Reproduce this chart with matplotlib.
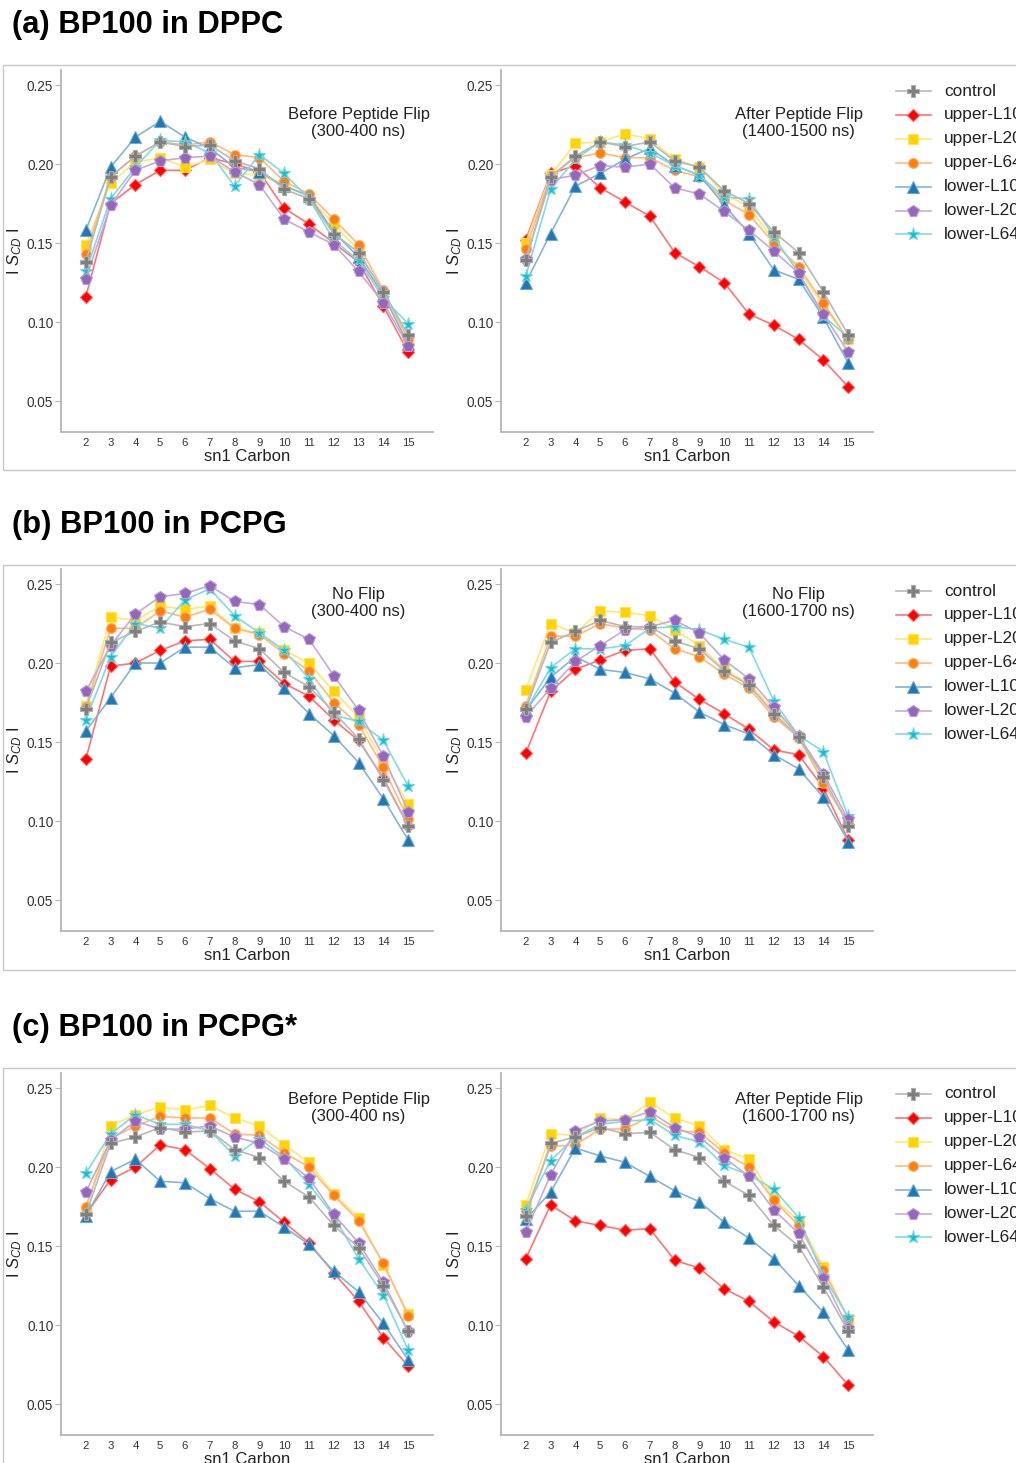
import matplotlib
matplotlib.use('Agg')
import matplotlib.pyplot as plt
from matplotlib.patches import Rectangle
from matplotlib.lines import Line2D
import matplotlib.colors as mcolors

plt.rcParams['font.family'] = ['Liberation Sans', 'DejaVu Sans']
plt.rcParams['mathtext.fontset'] = 'custom'
plt.rcParams['mathtext.rm'] = 'Liberation Sans'
plt.rcParams['mathtext.it'] = 'Liberation Sans:italic'

# ---------------- data ----------------
carbons = [2, 3, 4, 5, 6, 7, 8, 9, 10, 11, 12, 13, 14, 15]
series = ['control', 'upper-L10', 'upper-L20', 'upper-L64', 'lower-L10', 'lower-L20', 'lower-L64']

a_before = {
    'control':   [0.138, 0.192, 0.205, 0.214, 0.211, 0.212, 0.202, 0.197, 0.184, 0.178, 0.156, 0.144, 0.119, 0.092],
    'upper-L10': [0.116, 0.175, 0.187, 0.196, 0.196, 0.204, 0.200, 0.195, 0.172, 0.162, 0.150, 0.138, 0.110, 0.081],
    'upper-L20': [0.149, 0.188, 0.201, 0.204, 0.198, 0.203, 0.194, 0.193, 0.187, 0.179, 0.162, 0.145, 0.118, 0.089],
    'upper-L64': [0.143, 0.192, 0.205, 0.214, 0.212, 0.214, 0.206, 0.204, 0.189, 0.181, 0.165, 0.149, 0.120, 0.089],
    'lower-L10': [0.158, 0.198, 0.217, 0.227, 0.217, 0.210, 0.198, 0.195, 0.186, 0.180, 0.157, 0.141, 0.117, 0.086],
    'lower-L20': [0.127, 0.174, 0.196, 0.202, 0.204, 0.205, 0.195, 0.187, 0.165, 0.157, 0.149, 0.132, 0.112, 0.085],
    'lower-L64': [0.132, 0.178, 0.198, 0.215, 0.214, 0.207, 0.186, 0.206, 0.194, 0.178, 0.152, 0.139, 0.115, 0.099],
}
a_after = {
    'control':   [0.139, 0.192, 0.205, 0.214, 0.211, 0.214, 0.202, 0.198, 0.183, 0.175, 0.157, 0.144, 0.119, 0.092],
    'upper-L10': [0.152, 0.194, 0.199, 0.185, 0.176, 0.167, 0.144, 0.135, 0.125, 0.105, 0.098, 0.089, 0.076, 0.059],
    'upper-L20': [0.150, 0.193, 0.213, 0.214, 0.219, 0.216, 0.203, 0.198, 0.181, 0.173, 0.152, 0.133, 0.110, 0.089],
    'upper-L64': [0.146, 0.192, 0.204, 0.207, 0.204, 0.204, 0.196, 0.192, 0.177, 0.168, 0.150, 0.135, 0.112, 0.089],
    'lower-L10': [0.125, 0.156, 0.186, 0.194, 0.203, 0.210, 0.199, 0.193, 0.174, 0.156, 0.133, 0.127, 0.103, 0.074],
    'lower-L20': [0.140, 0.190, 0.193, 0.199, 0.198, 0.200, 0.185, 0.181, 0.170, 0.158, 0.145, 0.131, 0.105, 0.081],
    'lower-L64': [0.129, 0.184, 0.203, 0.214, 0.212, 0.207, 0.199, 0.193, 0.179, 0.178, 0.154, 0.131, 0.104, 0.090],
}
b_left = {
    'control':   [0.171, 0.213, 0.220, 0.226, 0.223, 0.225, 0.214, 0.209, 0.194, 0.185, 0.169, 0.152, 0.126, 0.097],
    'upper-L10': [0.139, 0.198, 0.200, 0.208, 0.214, 0.215, 0.201, 0.201, 0.187, 0.179, 0.164, 0.151, 0.127, 0.097],
    'upper-L20': [0.173, 0.229, 0.227, 0.236, 0.234, 0.236, 0.222, 0.219, 0.208, 0.200, 0.182, 0.166, 0.137, 0.111],
    'upper-L64': [0.172, 0.222, 0.222, 0.233, 0.229, 0.234, 0.222, 0.218, 0.206, 0.195, 0.175, 0.161, 0.134, 0.101],
    'lower-L10': [0.157, 0.178, 0.200, 0.200, 0.210, 0.210, 0.197, 0.199, 0.184, 0.168, 0.154, 0.137, 0.114, 0.088],
    'lower-L20': [0.182, 0.211, 0.231, 0.242, 0.244, 0.249, 0.239, 0.237, 0.223, 0.215, 0.192, 0.170, 0.141, 0.106],
    'lower-L64': [0.164, 0.204, 0.225, 0.222, 0.240, 0.247, 0.230, 0.219, 0.208, 0.190, 0.167, 0.163, 0.151, 0.122],
}
b_right = {
    'control':   [0.171, 0.213, 0.220, 0.227, 0.223, 0.223, 0.214, 0.209, 0.195, 0.186, 0.168, 0.153, 0.128, 0.097],
    'upper-L10': [0.143, 0.182, 0.196, 0.202, 0.208, 0.209, 0.188, 0.177, 0.168, 0.158, 0.145, 0.142, 0.121, 0.088],
    'upper-L20': [0.183, 0.225, 0.219, 0.233, 0.232, 0.230, 0.221, 0.211, 0.196, 0.187, 0.170, 0.153, 0.125, 0.100],
    'upper-L64': [0.173, 0.217, 0.217, 0.225, 0.222, 0.221, 0.209, 0.204, 0.193, 0.184, 0.166, 0.153, 0.124, 0.099],
    'lower-L10': [0.170, 0.191, 0.204, 0.196, 0.194, 0.190, 0.181, 0.169, 0.161, 0.155, 0.142, 0.133, 0.115, 0.087],
    'lower-L20': [0.166, 0.184, 0.201, 0.211, 0.221, 0.223, 0.227, 0.219, 0.202, 0.190, 0.172, 0.154, 0.130, 0.101],
    'lower-L64': [0.170, 0.197, 0.209, 0.209, 0.211, 0.222, 0.223, 0.221, 0.215, 0.210, 0.176, 0.154, 0.144, 0.103],
}
c_before = {
    'control':   [0.170, 0.215, 0.219, 0.225, 0.222, 0.223, 0.211, 0.206, 0.191, 0.181, 0.163, 0.149, 0.125, 0.096],
    'upper-L10': [0.170, 0.192, 0.200, 0.214, 0.211, 0.199, 0.186, 0.178, 0.165, 0.152, 0.133, 0.115, 0.092, 0.074],
    'upper-L20': [0.172, 0.226, 0.233, 0.238, 0.236, 0.239, 0.231, 0.226, 0.214, 0.203, 0.183, 0.168, 0.138, 0.107],
    'upper-L64': [0.175, 0.218, 0.226, 0.232, 0.231, 0.231, 0.221, 0.220, 0.209, 0.200, 0.182, 0.166, 0.139, 0.106],
    'lower-L10': [0.169, 0.197, 0.205, 0.191, 0.190, 0.180, 0.172, 0.172, 0.162, 0.151, 0.134, 0.121, 0.101, 0.078],
    'lower-L20': [0.184, 0.217, 0.229, 0.224, 0.224, 0.226, 0.219, 0.215, 0.205, 0.193, 0.170, 0.152, 0.127, 0.096],
    'lower-L64': [0.196, 0.221, 0.233, 0.227, 0.227, 0.223, 0.207, 0.218, 0.206, 0.189, 0.169, 0.142, 0.119, 0.084],
}
c_after = {
    'control':   [0.169, 0.215, 0.219, 0.225, 0.221, 0.222, 0.211, 0.206, 0.191, 0.182, 0.163, 0.150, 0.124, 0.096],
    'upper-L10': [0.142, 0.176, 0.166, 0.163, 0.160, 0.161, 0.141, 0.136, 0.123, 0.115, 0.102, 0.093, 0.080, 0.062],
    'upper-L20': [0.176, 0.221, 0.220, 0.231, 0.230, 0.241, 0.231, 0.226, 0.211, 0.205, 0.180, 0.166, 0.137, 0.104],
    'upper-L64': [0.172, 0.213, 0.214, 0.224, 0.224, 0.232, 0.223, 0.222, 0.209, 0.200, 0.179, 0.163, 0.135, 0.104],
    'lower-L10': [0.167, 0.184, 0.212, 0.207, 0.203, 0.194, 0.185, 0.178, 0.165, 0.155, 0.142, 0.125, 0.108, 0.084],
    'lower-L20': [0.159, 0.195, 0.223, 0.229, 0.230, 0.235, 0.225, 0.219, 0.206, 0.194, 0.173, 0.158, 0.130, 0.098],
    'lower-L64': [0.173, 0.204, 0.219, 0.227, 0.229, 0.230, 0.220, 0.216, 0.201, 0.195, 0.186, 0.168, 0.131, 0.105],
}

panel_titles = ['(a) BP100 in DPPC', '(b) BP100 in PCPG', '(c) BP100 in PCPG*']
annotations = [
    ('Before Peptide Flip\n(300-400 ns)', 'After Peptide Flip\n(1400-1500 ns)'),
    ('No Flip\n(300-400 ns)', 'No Flip\n(1600-1700 ns)'),
    ('Before Peptide Flip\n(300-400 ns)', 'After Peptide Flip\n(1600-1700 ns)'),
]
panel_data = [(a_before, a_after), (b_left, b_right), (c_before, c_after)]
yticks = [0.05, 0.10, 0.15, 0.20, 0.25]

# ---------------- style ----------------
colors = {'control': '#7f7f7f', 'upper-L10': '#ff0000', 'upper-L20': '#ffd400',
          'upper-L64': '#ff7f0e', 'lower-L10': '#1f77b4', 'lower-L20': '#9467bd',
          'lower-L64': '#17becf'}
markers = {'control': 'P', 'upper-L10': 'D', 'upper-L20': 's', 'upper-L64': 'o',
           'lower-L10': '^', 'lower-L20': 'p', 'lower-L64': '*'}
msizes = {'control': 8, 'upper-L10': 6.5, 'upper-L20': 6.5, 'upper-L64': 7,
          'lower-L10': 9, 'lower-L20': 8.5, 'lower-L64': 9.5}
draw_order = ['upper-L10', 'upper-L20', 'upper-L64', 'lower-L10', 'lower-L64', 'lower-L20', 'control']


def lighten(c, f=0.5):
    r, g, b = mcolors.to_rgb(c)
    return (r + (1 - r) * f, g + (1 - g) * f, b + (1 - b) * f)


W, H = 1016, 1463
fig = plt.figure(figsize=(W / 100, H / 100), dpi=100)

ov = fig.add_axes([0, 0, 1, 1])
ov.set_xlim(0, W)
ov.set_ylim(H, 0)
ov.axis('off')

spine_col = '#b5b5b5'
text_col = '#333333'


def rect(x0, y0, x1, y1):
    return [x0 / W, 1 - y1 / H, (x1 - x0) / W, (y1 - y0) / H]


offsets = [0, 499, 1003]
title_y = [25, 525, 1028]
box_top = [65, 565, 1068]
box_bot = [470, 970, 1480]
ann_y = [0.853, 0.906, 0.903]

for p in range(3):
    off = offsets[p]
    ov.add_patch(Rectangle((3, box_top[p]), 1040, box_bot[p] - box_top[p],
                           fill=False, edgecolor='#c8c8c8', lw=1.0))
    ov.text(12, title_y[p], panel_titles[p], fontsize=22.2, fontweight='bold',
            va='center', ha='left', color='black')
    for side in range(2):
        x0 = 61 if side == 0 else 501
        ax = fig.add_axes(rect(x0, 70 + off, x0 + 372, 432 + off))
        ax.set_xlim(1, 16)
        ax.set_ylim(0.0304, 0.2595)
        d = panel_data[p][side]
        for s in draw_order:
            c = colors[s]
            ax.plot(carbons, d[s], color=lighten(c, 0.45), lw=1.2,
                    marker=markers[s], ms=msizes[s], markerfacecolor=c,
                    markeredgecolor=lighten(c, 0.35), markeredgewidth=0.8)
        ax.set_xticks(carbons)
        ax.set_xticklabels([str(c) for c in carbons], fontsize=8.2, color=text_col)
        ax.set_yticks(yticks)
        ax.set_yticklabels(['%.2f' % v for v in yticks], fontsize=9.8, color=text_col)
        ax.tick_params(axis='x', length=0, pad=4)
        ax.tick_params(axis='y', length=4, width=0.8, color=spine_col, pad=1.5)
        for sp in ['top', 'right']:
            ax.spines[sp].set_visible(False)
        for sp in ['left', 'bottom']:
            ax.spines[sp].set_color(spine_col)
            ax.spines[sp].set_linewidth(1.3)
        ax.set_xlabel('sn1 Carbon', fontsize=12, color='#222222', labelpad=1)
        ax.set_ylabel('I $\\mathit{S}_{CD}$ I', fontsize=12, color='#222222')
        ax.yaxis.set_label_coords(-0.100, 0.5)
        ax.text(0.80, ann_y[p], annotations[p][side], transform=ax.transAxes,
                ha='center', va='center', fontsize=12, color='#222222',
                linespacing=1.2)
    # legend
    for i, s in enumerate(series):
        y = box_top[p] + 26 + i * 23.9
        c = colors[s]
        ov.add_line(Line2D([896, 931], [y, y], color=lighten(c, 0.45), lw=1.2))
        ov.plot([913], [y], marker=markers[s], ms=msizes[s], markerfacecolor=c,
                markeredgecolor=lighten(c, 0.35), markeredgewidth=0.8, ls='none')
        ov.text(944, y, s, fontsize=12.4, va='center', ha='left', color='#222222')

fig.savefig('out.png', dpi=100)
